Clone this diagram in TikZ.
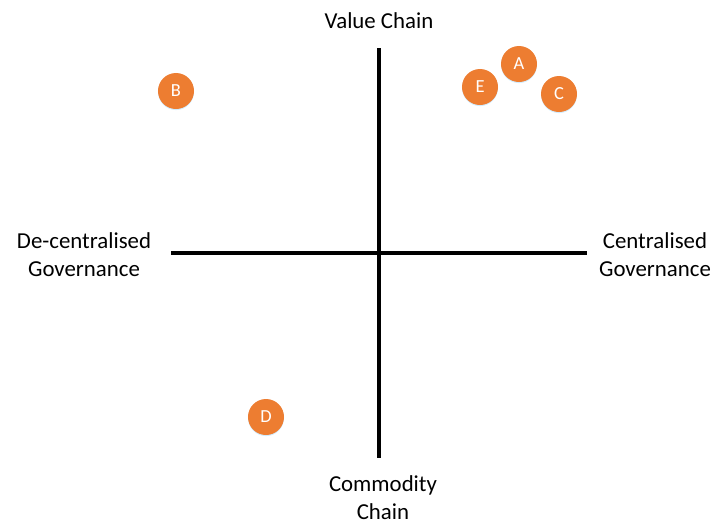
\documentclass[tikz,border=0pt]{standalone}
\usepackage{fontspec}
\setmainfont{Carlito}
\usepackage{tikz}
\usetikzlibrary{shadows}
\definecolor{dotorange}{HTML}{ED7D31}
\tikzset{
  axis/.style={line width=2.3pt},
  label/.style={align=center, font=\fontsize{13}{16}\selectfont},
  dot/.style={circle, fill=dotorange, minimum size=20.5pt, inner sep=0pt,
    text=white, font=\fontsize{10.5}{11}\selectfont,
    drop shadow={shadow xshift=0pt, shadow yshift=-0.6pt, opacity=0.18, fill=blue!40!cyan}}
}

\begin{document}
\begin{tikzpicture}[x=0.02cm, y=-0.02cm]
\useasboundingbox (0,0) rectangle (713,522);
% the two axes
\coordinate (top) at (379,48);
\coordinate (bottom) at (379,458);
\coordinate (left) at (171,253);
\coordinate (right) at (587,253);
\draw[axis] (top)--(bottom);
\draw[axis] (left)--(right);
% axis ends
\node[label] (vc) at (379,21) {Value Chain};
\node[label] (cc) at (383,498) {Commodity\\Chain};
\node[label] (dg) at (84,255) {De-centralised\\Governance};
\node[label] (cg) at (655,255) {Centralised\\Governance};
% cases
\node[dot] (A) at (519,64) {A};
\node[dot] (E) at (480,87) {E};
\node[dot] (C) at (559,94) {C};
\node[dot] (B) at (176,91) {B};
\node[dot] (D) at (266,417) {D};
\end{tikzpicture}
\end{document}
